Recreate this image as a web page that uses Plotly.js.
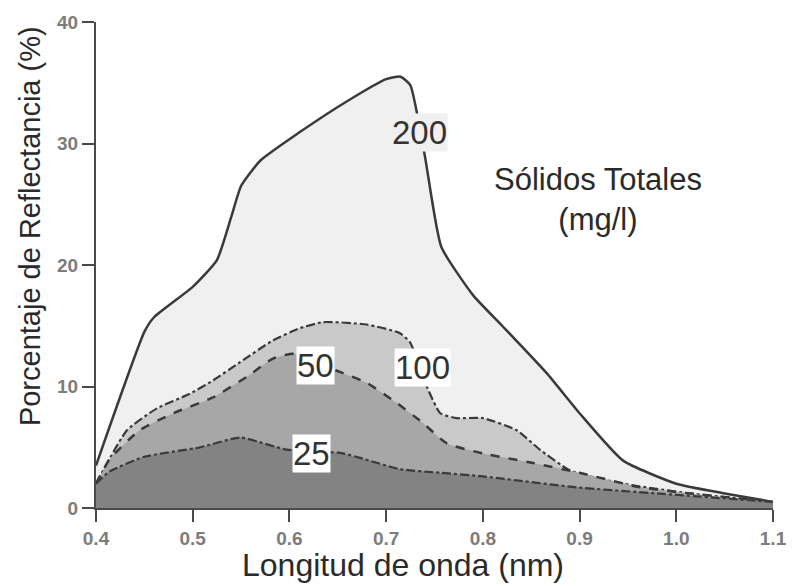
<!DOCTYPE html>
<html>
<head>
<meta charset="utf-8">
<script src="https://cdn.plot.ly/plotly-3.0.1.min.js"></script>
<style>html,body{margin:0;padding:0;background:#fff;}#chart{width:792px;height:586px;}</style>
</head>
<body>
<div id="chart"></div>
<script>
// Wavelength (nm, as labelled) and reflectance (%) per total-solids concentration (mg/l)
const x200 = [0.40, 0.45, 0.46, 0.50, 0.525, 0.54, 0.55, 0.57, 0.61, 0.66, 0.70, 0.715, 0.725, 0.74, 0.757, 0.79, 0.82, 0.866, 0.90, 0.945, 1.0, 1.05, 1.1];
const y200 = [3.5, 14.5, 15.7, 18.2, 20.4, 24.0, 26.5, 28.6, 30.9, 33.5, 35.3, 35.5, 34.8, 29.0, 21.5, 17.5, 15.0, 11.1, 7.8, 3.9, 2.0, 1.2, 0.5];

const x100 = [0.40, 0.432, 0.463, 0.497, 0.521, 0.549, 0.583, 0.611, 0.635, 0.68, 0.714, 0.725, 0.742, 0.756, 0.773, 0.80, 0.835, 0.859, 0.89, 0.945, 1.014, 1.1];
const y100 = [2.0, 6.4, 8.2, 9.4, 10.5, 12.0, 13.8, 14.8, 15.3, 15.1, 14.4, 13.6, 10.0, 7.8, 7.4, 7.4, 6.4, 4.8, 3.1, 2.0, 1.2, 0.5];

const x50 = [0.40, 0.414, 0.445, 0.48, 0.521, 0.556, 0.583, 0.605, 0.652, 0.68, 0.71, 0.738, 0.763, 0.80, 0.852, 0.90, 0.963, 1.014, 1.1];
const y50 = [2.0, 4.0, 6.4, 7.8, 9.1, 10.8, 12.3, 12.7, 11.2, 10.3, 8.7, 7.0, 5.3, 4.5, 3.7, 2.9, 1.7, 1.2, 0.5];

const x25 = [0.40, 0.414, 0.449, 0.508, 0.549, 0.597, 0.655, 0.714, 0.756, 0.80, 0.897, 0.98, 1.1];
const y25 = [2.0, 3.0, 4.2, 5.0, 5.8, 4.8, 4.5, 3.2, 2.9, 2.6, 1.7, 1.2, 0.5];

const xTicks = [0.4, 0.5, 0.6, 0.7, 0.8, 0.9, 1.0, 1.1];
const xTickText = ['0.4', '0.5', '0.6', '0.7', '0.8', '0.9', '1.0', '1.1'];
const yTicks = [0, 10, 20, 30, 40];
const yTickText = ['0', '10', '20', '30', '40'];

const seriesNames = ['200', '100', '50', '25'];

const FONT = '"Liberation Sans", Arial, Helvetica, sans-serif';

function trace(x, y, name, fillcolor, dash, width) {
  return {
    x: x, y: y, name: name, type: 'scatter', mode: 'lines',
    fill: 'tozeroy', fillcolor: fillcolor,
    line: {color: '#3a3a3a', width: width, dash: dash, shape: 'spline', smoothing: 0.5},
    hoverinfo: 'skip'
  };
}

const data = [
  trace(x200, y200, seriesNames[0], '#f0f0f0', 'solid', 2.5),
  trace(x100, y100, seriesNames[1], '#c9c9c9', 'dashdot', 2.2),
  trace(x50, y50, seriesNames[2], '#a7a7a7', 'dash', 2.5),
  trace(x25, y25, seriesNames[3], '#838383', 'dashdot', 2.2)
];

function label(x, y, text, bg) {
  return {
    x: x, y: y, xref: 'x', yref: 'y', text: text, showarrow: false,
    font: {family: FONT, size: 33, color: '#333'},
    bgcolor: bg, borderpad: 0
  };
}

const layout = {
  width: 792, height: 586,
  margin: {l: 96, r: 19, t: 22, b: 78},
  paper_bgcolor: '#fff', plot_bgcolor: '#fff',
  showlegend: false,
  font: {family: FONT},
  xaxis: {
    range: [0.4, 1.1], tickvals: xTicks, ticktext: xTickText,
    showgrid: false, zeroline: false,
    showline: true, linecolor: '#4a4a4a', linewidth: 2,
    ticks: 'outside', ticklen: 12, tickwidth: 2, tickcolor: '#4a4a4a',
    tickfont: {family: FONT, size: 19, color: '#7c7c7c', weight: 'bold'}
  },
  yaxis: {
    range: [0, 40], tickvals: yTicks, ticktext: yTickText,
    showgrid: false, zeroline: false,
    showline: true, linecolor: '#4a4a4a', linewidth: 2,
    ticks: 'outside', ticklen: 12, tickwidth: 2, tickcolor: '#4a4a4a',
    tickfont: {family: FONT, size: 19, color: '#7c7c7c', weight: 'bold'}
  },
  annotations: [
    label(0.735, 30.9, '200', '#f0f0f0'),
    label(0.738, 11.6, '100', '#ffffff'),
    label(0.627, 11.7, '50', '#ffffff'),
    label(0.623, 4.5, '25', '#ffffff'),
    {
      x: 0.919, y: 25.4, xref: 'x', yref: 'y', showarrow: false,
      text: 'Sólidos Totales<br>(mg/l)', align: 'center',
      font: {family: FONT, size: 31, color: '#2a2a2a'}
    },
    {
      x: 0.4535, y: -0.117, xref: 'paper', yref: 'paper', showarrow: false,
      xanchor: 'center', yanchor: 'middle',
      text: 'Longitud de onda (nm)',
      font: {family: FONT, size: 32, color: '#2a2a2a'}
    },
    {
      x: -0.0975, y: 0.58, xref: 'paper', yref: 'paper', showarrow: false,
      xanchor: 'center', yanchor: 'middle', textangle: -90,
      text: 'Porcentaje de Reflectancia (%)',
      font: {family: FONT, size: 29, color: '#2a2a2a'}
    }
  ]
};

Plotly.newPlot('chart', data, layout, {displayModeBar: false, staticPlot: true});
</script>
</body>
</html>
